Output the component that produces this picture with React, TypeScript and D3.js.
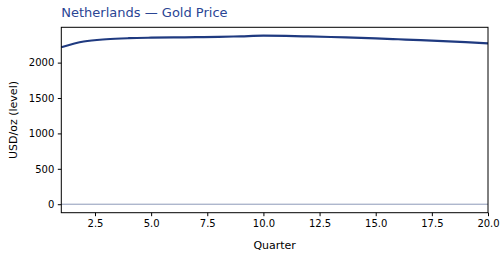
import React, { useEffect, useRef } from "react";
import * as d3 from "d3";

const quarters = [1, 2, 3, 4, 5, 6, 7, 8, 9, 10, 11, 12, 13, 14, 15, 16, 17, 18, 19, 20];
const goldPrice = [
  2218, 2298, 2330, 2345, 2352, 2356, 2360, 2364, 2372, 2380,
  2377, 2370, 2362, 2352, 2342, 2330, 2318, 2305, 2290, 2272,
];
const xTicks = [2.5, 5, 7.5, 10, 12.5, 15, 17.5, 20];
const yTicks = [0, 500, 1000, 1500, 2000];

const App = () => {
  const svgRef = useRef<SVGSVGElement>(null);

  useEffect(() => {
    const svg = d3.select(svgRef.current);
    svg.selectAll("*").remove();

    const width = 504;
    const height = 258;
    const margin = { top: 27.3, right: 16, bottom: 45.3, left: 61.3 };
    const font = "DejaVu Sans, sans-serif";

    const x = d3
      .scaleLinear()
      .domain([1, 20])
      .range([margin.left, width - margin.right]);

    const y = d3
      .scaleLinear()
      .domain([-120, 2499])
      .range([height - margin.bottom, margin.top]);

    // zero reference line
    svg
      .append("line")
      .attr("x1", margin.left)
      .attr("x2", width - margin.right)
      .attr("y1", y(0))
      .attr("y2", y(0))
      .attr("stroke", "#8d9ab8")
      .attr("stroke-width", 1);

    // price line
    const line = d3
      .line<number>()
      .x((d, i) => x(quarters[i]))
      .y((d) => y(d))
      .curve(d3.curveMonotoneX);

    svg
      .append("path")
      .datum(goldPrice)
      .attr("d", line)
      .attr("fill", "none")
      .attr("stroke", "#1f3a80")
      .attr("stroke-width", 2.2);

    // frame
    svg
      .append("rect")
      .attr("x", margin.left)
      .attr("y", margin.top)
      .attr("width", width - margin.left - margin.right)
      .attr("height", height - margin.top - margin.bottom)
      .attr("fill", "none")
      .attr("stroke", "#000")
      .attr("stroke-width", 1);

    const xAxis = svg
      .append("g")
      .attr("transform", `translate(0,${height - margin.bottom})`)
      .call(
        d3
          .axisBottom(x)
          .tickValues(xTicks)
          .tickSize(3.5)
          .tickPadding(3.5)
          .tickFormat(d3.format(".1f"))
      );
    xAxis.select(".domain").remove();
    xAxis.selectAll("text").attr("font-family", font).attr("font-size", 10).attr("fill", "#000");

    const yAxis = svg
      .append("g")
      .attr("transform", `translate(${margin.left},0)`)
      .call(
        d3
          .axisLeft(y)
          .tickValues(yTicks)
          .tickSize(3.5)
          .tickPadding(3.5)
          .tickFormat(d3.format("d"))
      );
    yAxis.select(".domain").remove();
    yAxis.selectAll("text").attr("font-family", font).attr("font-size", 10).attr("fill", "#000");

    // labels
    svg
      .append("text")
      .attr("x", (margin.left + width - margin.right) / 2)
      .attr("y", 249)
      .attr("text-anchor", "middle")
      .attr("font-family", font)
      .attr("font-size", 11)
      .text("Quarter");

    svg
      .append("text")
      .attr("transform", `translate(17,${(margin.top + height - margin.bottom) / 2}) rotate(-90)`)
      .attr("text-anchor", "middle")
      .attr("font-family", font)
      .attr("font-size", 11)
      .text("USD/oz (level)");

    svg
      .append("text")
      .attr("x", margin.left)
      .attr("y", 17)
      .attr("font-family", font)
      .attr("font-size", 13)
      .attr("fill", "#2a4594")
      .text("Netherlands — Gold Price");
  }, []);

  return (
    <svg
      ref={svgRef}
      width={504}
      height={258}
      style={{ position: "absolute", left: 0, top: 0 }}
    ></svg>
  );
};

export default App;
